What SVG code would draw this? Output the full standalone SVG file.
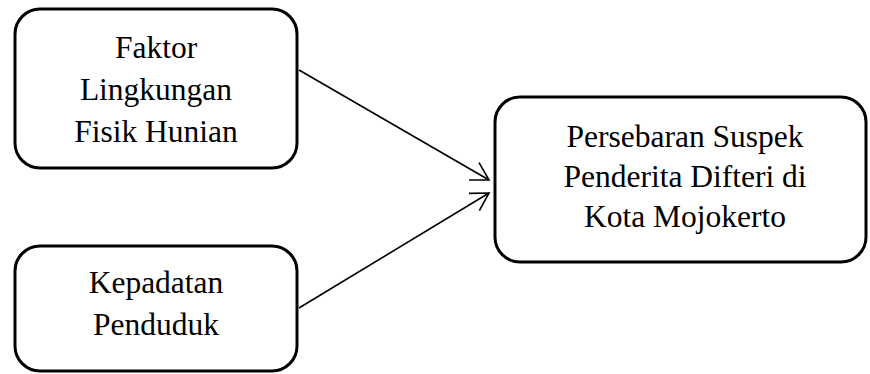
<svg xmlns="http://www.w3.org/2000/svg" width="870" height="374" viewBox="0 0 870 374">
<style>
.box{fill:#fff;stroke:#000;stroke-width:3}
.t{font-family:"Liberation Serif","Times New Roman",serif;font-size:31.5px;fill:#000;text-anchor:middle}
.c{stroke:#000;stroke-width:1.6;fill:none}
</style>
<defs>
<marker id="ah" markerUnits="userSpaceOnUse" markerWidth="30" markerHeight="30" viewBox="-20 -15 22 30" refX="0" refY="0" orient="auto">
<path d="M-17.3,-10 L0,0 L-17.3,10" fill="none" stroke="#000" stroke-width="1.6"/>
</marker>
</defs>
<rect width="870" height="374" fill="#fff"/>
<g id="connectors">
<line class="c" x1="299" y1="70" x2="489" y2="180" marker-end="url(#ah)"/>
<line class="c" x1="299" y1="308" x2="489" y2="193" marker-end="url(#ah)"/>
</g>
<g id="node-faktor">
<rect class="box" x="15" y="9" width="282" height="159" rx="25" ry="25"/>
<text class="t" x="156" y="58">Faktor</text>
<text class="t" x="156" y="100">Lingkungan</text>
<text class="t" x="156" y="142">Fisik Hunian</text>
</g>
<g id="node-kepadatan">
<rect class="box" x="15" y="246" width="282" height="125" rx="25" ry="25"/>
<text class="t" x="156" y="293">Kepadatan</text>
<text class="t" x="156" y="335">Penduduk</text>
</g>
<g id="node-persebaran">
<rect class="box" x="495" y="97" width="371" height="165" rx="25" ry="25"/>
<text class="t" x="685" y="147">Persebaran Suspek</text>
<text class="t" x="685" y="187">Penderita Difteri di</text>
<text class="t" x="685" y="227">Kota Mojokerto</text>
</g>
</svg>
